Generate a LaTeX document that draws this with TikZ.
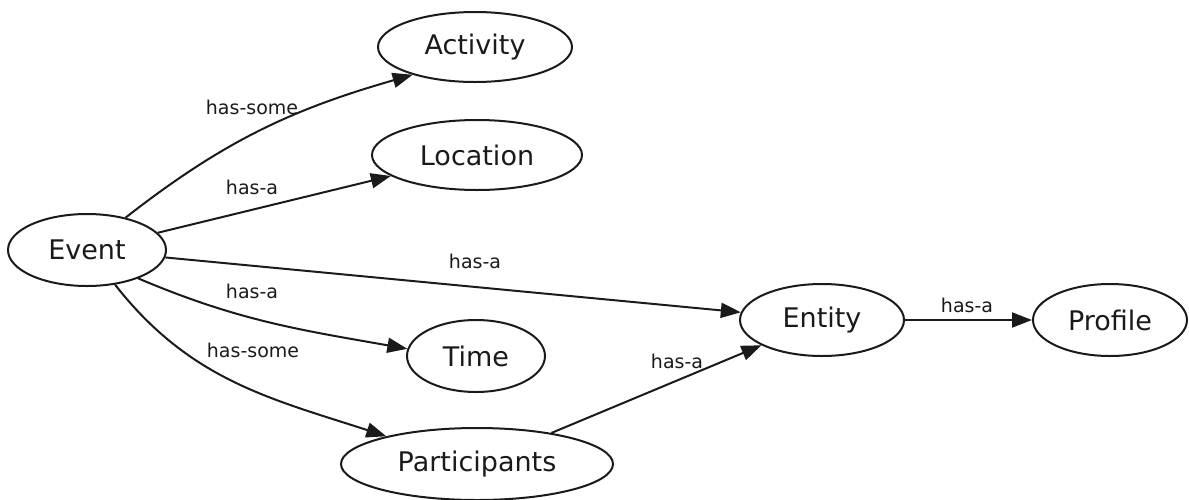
\documentclass[tikz,border=0pt]{standalone}
\usepackage{fontspec}
\setmainfont{DejaVu Sans}
\usetikzlibrary{shapes.geometric,arrows.meta}
\definecolor{ink}{HTML}{1A1A1A}
\tikzset{
  concept/.style={ellipse, draw=ink, line width=2pt, inner sep=0pt,
    text=ink, font=\fontsize{27}{31}\selectfont},
  rel/.style={draw=ink, line width=2pt,
    -{Triangle[length=20pt,width=15pt]}},
  lbl/.style={text=ink, font=\fontsize{19}{22}\selectfont, inner sep=0pt}
}
\begin{document}
\begin{tikzpicture}[x=1pt,y=1pt]
  \useasboundingbox (0,0) rectangle (1189,-499);

  % concepts
  \node[concept, minimum width=158pt, minimum height=72pt] (ev)  at (87,-250)  {Event};
  \node[concept, minimum width=194pt, minimum height=70pt] (act) at (475,-47)  {Activity};
  \node[concept, minimum width=210pt, minimum height=70pt] (loc) at (477,-155) {Location};
  \node[concept, minimum width=138pt, minimum height=72pt] (tim) at (476,-356) {Time};
  \node[concept, minimum width=272pt, minimum height=72pt] (par) at (477,-464) {Participants};
  \node[concept, minimum width=164pt, minimum height=72pt] (ent) at (822,-320) {Entity};
  \node[concept, minimum width=154pt, minimum height=72pt] (pro) at (1110,-320) {Profile};

  % relations
  \draw[rel] (ev.40) to[out=38,in=196] (act.204);
  \draw[rel] (ev) -- (loc);
  \draw[rel] (ev) -- (ent);
  \draw[rel] (ev.-29) to[out=-23,in=170] (tim.174);
  \draw[rel] (ev.-51) to[out=-52,in=162] (par.163);
  \draw[rel] (par) -- (ent);
  \draw[rel] (ent) -- (pro);

  % relation labels
  \node[lbl] (l1) at (252,-107) {has-some};
  \node[lbl] (l2) at (252,-187) {has-a};
  \node[lbl] (l3) at (475,-261) {has-a};
  \node[lbl] (l4) at (252,-291) {has-a};
  \node[lbl] (l5) at (253,-350) {has-some};
  \node[lbl] (l6) at (677,-361) {has-a};
  \node[lbl] (l7) at (967,-305) {has-a};
\end{tikzpicture}
\end{document}
